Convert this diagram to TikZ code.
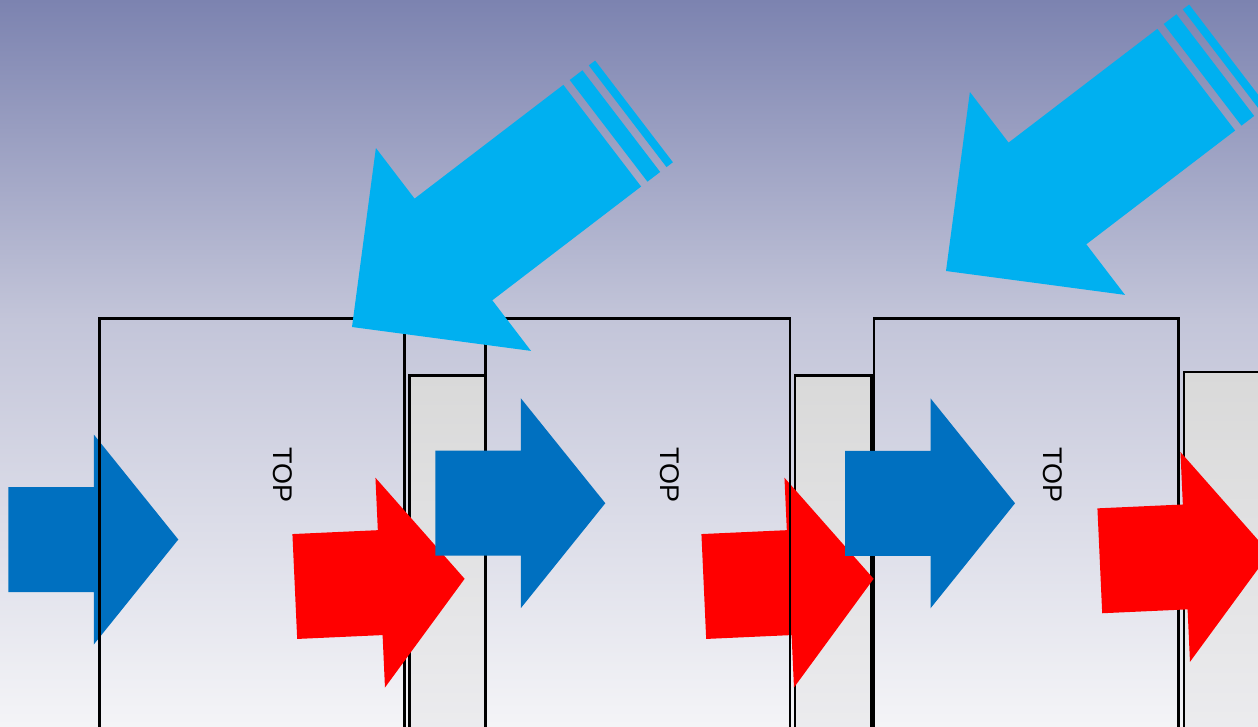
\documentclass[tikz,border=0pt]{standalone}
\usepackage{xcolor}
\usepackage{fontspec}
\setmainfont{Liberation Sans}
\usepackage{tikz}
\definecolor{bgtop}{HTML}{7C83B0}
\definecolor{bgmid}{HTML}{C3C5D9}
\definecolor{bgbot}{HTML}{F4F4F7}
\definecolor{flowblue}{HTML}{0070C0}
\definecolor{flowred}{HTML}{FF0000}
\definecolor{windcyan}{HTML}{00B0F0}
\definecolor{panelgray}{HTML}{D9D9D9}
\definecolor{panelfade}{HTML}{EDEDF0}
\pgfdeclareverticalshading{skybg}{100bp}{color(0bp)=(bgbot); color(25bp)=(bgbot); color(53bp)=(bgmid); color(75bp)=(bgtop); color(100bp)=(bgtop)}
\tikzset{
	pics/blockarrow/.style={code={
		\fill (0,-52.5) -- (85.5,-52.5) -- (85.5,-105) -- (170,0) -- (85.5,105) -- (85.5,52.5) -- (0,52.5) -- cycle;}},
	pics/stripedarrow/.style={code={
		\fill (0,0) -- (-127.7,127.7) -- (-127.7,64) -- (-315,64) -- (-315,-64) -- (-127.7,-64) -- (-127.7,-127.7) -- cycle;
		\fill (-339,-64) rectangle (-323,64);
		\fill (-355,-64) rectangle (-347,64);}},
	cabinet/.style={draw=black, line width=2.6pt},
	sidepanel/.style={draw=black, line width=2.6pt, top color=panelgray, bottom color=panelfade},
	toplabel/.style={rotate=-90, inner sep=0pt, font=\fontsize{27}{30}\selectfont},
}

\begin{document}
\begin{tikzpicture}[x=1pt, y=-1pt]
		\useasboundingbox (0,0) rectangle (1258,726);
		\clip (0,0) rectangle (1258,726);
		\shade[shading=skybg] (0,0) rectangle (1258,726);
		\pic[color=flowblue] (b1) at (8.3,539.5) {blockarrow};
		\draw[cabinet] (99.5,318.5) rectangle (404.5,760);
		\draw[sidepanel] (409.5,375.5) rectangle (485.5,760);
		\draw[cabinet] (874,318.5) rectangle (1178.5,760);
		\draw[sidepanel] (1184,372) rectangle (1275,760);
		\draw[sidepanel] (795,375.5) rectangle (871.5,760);
		\pic[color=flowred, rotate=2.6] (r2) at (703.8,586.5) {blockarrow};
		\draw[cabinet] (485.5,318.5) rectangle (790,760);
		\pic[color=flowred, rotate=2.6] (r1) at (294.8,586.5) {blockarrow};
		\pic[color=flowblue] (b2) at (435.3,503.2) {blockarrow};
		\pic[color=flowred, rotate=2.6] (r3) at (1099.8,560.8) {blockarrow};
		\pic[color=flowblue] (b3) at (845,503.3) {blockarrow};
		\node[toplabel] at (283,475) (top1){TOP};
		\node[toplabel] at (670,475) (top2){TOP};
		\node[toplabel] at (1053,475) (top3){TOP};
		\pic[color=windcyan, rotate=217.4] (w1) at (352,327) {stripedarrow};
		\pic[color=windcyan, rotate=217.4] (w2) at (946,271) {stripedarrow};
	\end{tikzpicture}
\end{document}
